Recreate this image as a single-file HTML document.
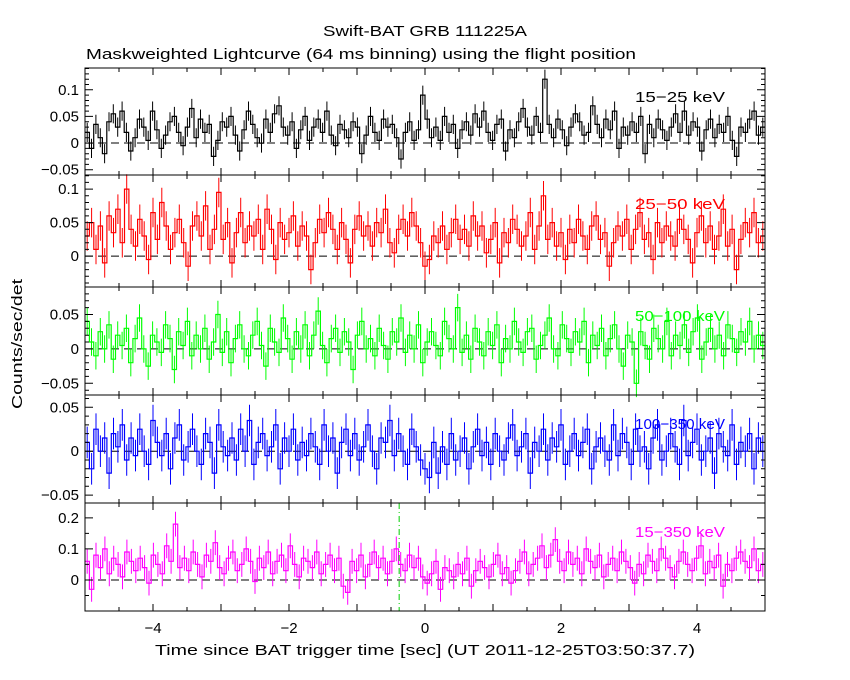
<!DOCTYPE html>
<html><head><meta charset="utf-8"><style>
body{margin:0;background:#fff;}
svg{display:block;font-family:"Liberation Sans",sans-serif;}
</style></head><body>
<svg id="c" width="850" height="680" xmlns="http://www.w3.org/2000/svg">
<rect width="850" height="680" fill="#fff"/>
<text x="425" y="36" font-size="15" text-anchor="middle" textLength="204" lengthAdjust="spacingAndGlyphs">Swift-BAT GRB 111225A</text>
<text x="86" y="59" font-size="15" textLength="550" lengthAdjust="spacingAndGlyphs">Maskweighted Lightcurve (64 ms binning) using the flight position</text>
<text transform="translate(22,344) rotate(-90)" font-size="15" text-anchor="middle" textLength="130" lengthAdjust="spacingAndGlyphs">Counts/sec/det</text>
<text x="155" y="655" font-size="15" textLength="540" lengthAdjust="spacingAndGlyphs">Time since BAT trigger time [sec] (UT 2011-12-25T03:50:37.7)</text>
</svg>
<script>
const xTicks=[-4,-2,0,2,4];
const triggerLine=-0.38;
const p1=[20,-10,35,10,-20,40,55,30,60,20,-15,10,45,30,5,60,25,-10,15,40,50,20,-5,30,65,10,45,20,35,-25,5,40,30,50,15,-15,25,60,35,10,0,45,20,55,70,30,15,40,-10,25,50,5,30,45,20,60,15,-5,35,25,10,40,30,-20,15,50,20,5,45,30,35,10,-30,20,40,5,25,90,45,10,30,5,50,20,35,-10,25,40,15,55,30,60,20,5,35,45,-15,25,10,40,65,30,15,50,20,120,35,10,45,25,-5,30,55,40,15,20,70,35,10,45,25,60,-10,30,15,40,20,50,-20,35,10,45,25,5,30,55,20,60,15,40,30,-15,25,45,10,35,20,50,5,-25,30,20,45,60,15,30];
const p2=[30,50,10,45,-10,60,35,70,20,100,40,15,55,30,-5,65,25,80,45,10,35,55,20,-15,45,60,30,75,10,40,95,25,50,-10,35,65,20,45,30,55,10,70,40,-5,50,25,35,60,15,45,30,-20,20,55,35,65,40,10,50,25,-10,40,60,30,45,15,50,35,70,20,5,40,55,30,65,45,20,-15,-5,30,20,45,10,35,55,25,40,15,60,30,45,5,25,50,-10,35,20,55,40,15,30,65,10,45,90,25,50,15,35,-5,40,20,55,30,10,45,60,25,35,-15,20,45,30,55,10,40,65,25,35,-5,50,20,45,30,15,55,40,25,-10,35,60,20,45,10,30,70,15,40,-20,25,50,35,65,20,30];
const p3=[40,10,-10,25,0,35,-15,20,5,30,-20,15,45,0,-25,20,10,-5,35,15,-30,25,5,40,-10,20,0,30,-15,10,50,-5,25,-20,15,35,0,-10,20,40,5,-25,30,10,-5,45,15,-15,25,0,35,-10,20,55,5,-20,15,30,-5,25,10,-30,20,40,0,15,-10,30,5,-15,25,10,45,-5,20,0,35,-20,10,25,5,-10,40,15,0,60,-5,20,-15,30,10,-10,25,5,35,-20,15,0,40,10,-5,25,30,-15,5,20,45,0,-10,35,15,-5,25,10,40,-20,20,5,30,-10,15,35,0,-25,20,10,-50,25,5,-15,30,15,0,40,-10,20,5,35,-5,25,45,-15,10,30,0,20,-10,35,15,-5,25,10,40,0,20,5];
const p4=[10,-20,25,0,15,-25,20,5,30,-10,15,-5,25,0,-15,35,10,-5,20,-20,15,30,-10,5,25,0,-15,20,10,-25,30,5,-5,15,-10,25,0,35,-15,10,20,-5,5,30,-20,15,0,25,-10,10,-5,20,5,-15,30,0,15,-25,10,25,-5,20,-10,5,30,0,-20,15,10,35,-5,20,0,-15,25,5,-10,-20,-30,10,-25,5,-15,20,-10,0,15,-20,5,25,-5,10,-15,20,0,-10,15,30,-5,5,20,-25,10,0,25,-10,15,5,30,-15,0,20,-5,10,25,-20,5,15,0,-10,30,-5,20,10,-15,25,0,5,-20,15,30,-10,0,20,5,-15,35,-5,10,25,-10,0,15,-25,20,5,-5,30,-15,10,0,20,-20,15,0];
const p5=[60,-30,80,40,100,20,70,50,10,90,60,30,70,40,-10,80,50,20,110,60,180,40,70,30,90,50,10,80,60,120,40,20,70,90,30,50,100,60,-5,70,40,90,20,60,80,30,110,50,10,70,60,40,90,20,50,80,30,70,-20,-40,60,30,80,10,50,90,40,70,20,60,100,50,30,80,40,70,10,-10,20,60,-30,40,30,10,50,20,70,-20,30,60,40,10,50,80,20,40,-10,30,60,90,20,50,70,110,40,80,130,60,30,90,50,70,20,100,60,40,80,10,50,70,30,90,60,40,-10,50,20,80,60,30,100,70,40,10,60,90,50,30,70,110,20,60,40,80,-20,50,30,70,90,60,40,100,30,50];
const panels=[
 {name:'15-25',data:p1,err:18,color:'#000',top:68,bot:175,vmax:0.141,vmin:-0.06,ticks:[-0.05,0,0.05,0.1],tl:['−0.05','0','0.05','0.1'],minor:0.01,label:'15−25 keV'},
 {name:'25-50',data:p2,err:22,color:'#f00',top:175,bot:287,vmax:0.121,vmin:-0.046,ticks:[0,0.05,0.1],tl:['0','0.05','0.1'],minor:0.01,label:'25−50 keV'},
 {name:'50-100',data:p3,err:20,color:'#0f0',top:287,bot:395,vmax:0.09,vmin:-0.067,ticks:[-0.05,0,0.05],tl:['−0.05','0','0.05'],minor:0.01,label:'50−100 keV'},
 {name:'100-350',data:p4,err:18,color:'#00f',top:395,bot:503,vmax:0.064,vmin:-0.059,ticks:[-0.05,0,0.05],tl:['−0.05','0','0.05'],minor:0.01,label:'100−350 keV'},
 {name:'15-350',data:p5,err:40,color:'#f0f',top:503,bot:611,vmax:0.248,vmin:-0.1,ticks:[0,0.1,0.2],tl:['0','0.1','0.2'],minor:0.05,label:'15−350 keV'}
];
const L=85,R=765,X0=-5,X1=5;
const sx=v=>L+(v-X0)/(X1-X0)*(R-L);
const svg=document.getElementById('c');
const NS='http://www.w3.org/2000/svg';
function mk(t,a,parent){const e=document.createElementNS(NS,t);for(const k in a)e.setAttribute(k,a[k]);(parent||svg).appendChild(e);return e;}
panels.forEach((p,pi)=>{
 const sy=v=>p.top+(p.vmax-v)/(p.vmax-p.vmin)*(p.bot-p.top);
 const g=mk('g',{});
 
 
 const n=p.data.length,w=(X1-X0)/n;
 let d='',e='';
 p.data.forEach((v,i)=>{
  const val=v/1000,x0=sx(X0+i*w),x1=sx(X0+(i+1)*w),y=sy(val);
  d+=(i===0?'M':'L')+x0.toFixed(1)+','+y.toFixed(1)+'L'+x1.toFixed(1)+','+y.toFixed(1);
  const xc=((x0+x1)/2).toFixed(1);
  e+='M'+xc+','+sy(val+p.err/1000).toFixed(1)+'L'+xc+','+sy(val-p.err/1000).toFixed(1);
 });
 const z=mk('line',{x1:L,x2:R,y1:sy(0),y2:sy(0),stroke:'#000','stroke-dasharray':'8,5','stroke-width':1},g);
 
 
 const eb=mk('path',{d:e,stroke:p.color,'stroke-width':1,fill:'none'},g);
 
 
 const ln=mk('path',{d:d,stroke:p.color,'stroke-width':1.2,fill:'none'},g);
 
 
 if(pi===4){
  const tl=mk('line',{x1:sx(triggerLine),x2:sx(triggerLine),y1:p.top,y2:p.bot,stroke:'#0c0','stroke-dasharray':'6,3,1,3','stroke-width':1},g);
  
  
 }
 const fr=mk('rect',{x:L,y:p.top,width:R-L,height:p.bot-p.top,fill:'none',stroke:'#000','stroke-width':1},g);
 
 
 let t='';
 for(let v=-5;v<=5.001;v+=0.5){const x=sx(v).toFixed(1),len=Math.abs(v-Math.round(v))<0.01?7:4;t+='M'+x+','+p.bot+'l0,-'+len+'M'+x+','+p.top+'l0,'+len;}
 const k0=Math.ceil(p.vmin/p.minor),k1=Math.floor(p.vmax/p.minor);
 for(let k=k0;k<=k1;k++){const v=k*p.minor,y=sy(v).toFixed(1);const maj=p.ticks.some(q=>Math.abs(q-v)<1e-6);const len=maj?8:4;t+='M'+L+','+y+'l'+len+',0M'+R+','+y+'l-'+len+',0';}
 const tk=mk('path',{d:t,stroke:'#000','stroke-width':1,fill:'none'},g);
 
 
 p.ticks.forEach((v,i)=>{
  const tx=mk('text',{x:L-6,y:sy(v)+5,'font-size':15,'text-anchor':'end'},g);
  tx.textContent=p.tl[i];
  
  
 });
 const lb=mk('text',{x:725,y:p.top+34,'font-size':15,'text-anchor':'end',fill:p.color,textLength:90,lengthAdjust:'spacingAndGlyphs'},g);
 lb.textContent=p.label;
 
 
});
xTicks.forEach(v=>{
 const t=mk('text',{x:sx(v),y:633,'font-size':15,'text-anchor':'middle'});
 t.textContent=v<0?'−'+(-v):String(v);
 
 
});
</script>
</body></html>
